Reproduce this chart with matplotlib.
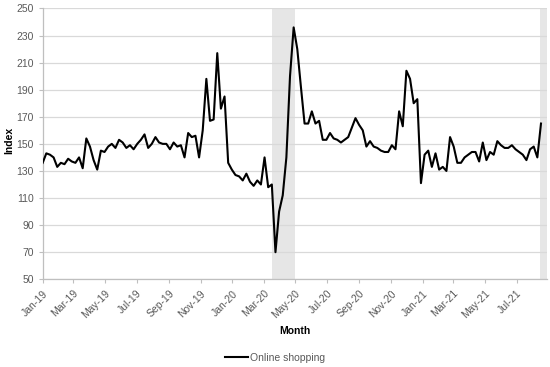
import numpy as np
import pandas as pd
import matplotlib
matplotlib.use('Agg')
import matplotlib.pyplot as plt
import matplotlib.dates as mdates

plt.rcParams['font.family'] = ['Liberation Sans', 'DejaVu Sans']

# weekly index values, Jan 2019 - Aug 2021
online_shopping = [
    136, 143, 142, 140, 133, 136, 135, 139, 137, 136,   # w0-9
    140, 132, 154, 148, 138, 131, 145, 144, 148, 150,   # w10-19
    147, 153, 151, 147, 149, 146, 150, 153, 157, 147,   # w20-29
    150, 155, 151, 150, 150, 146, 151, 148, 149, 140,   # w30-39
    158, 155, 156, 140, 160, 198, 167, 168, 217, 176,   # w40-49
    185, 136, 131, 127, 126, 123, 128, 122, 119, 123,   # w50-59
    120, 140, 118, 120, 70, 100, 112, 140, 200, 236,    # w60-69
    220, 192, 165, 165, 174, 165, 167, 153, 153, 158,   # w70-79
    154, 153, 151, 153, 155, 162, 169, 164, 160, 148,   # w80-89
    152, 148, 147, 145, 144, 144, 149, 146, 174, 163,   # w90-99
    204, 198, 180, 183, 121, 142, 145, 133, 143, 131,   # w100-109
    133, 130, 155, 148, 136, 136, 140, 142, 144, 144,   # w110-119
    137, 151, 138, 144, 142, 152, 149, 147, 147, 149,   # w120-129
    146, 144, 142, 138, 146, 148, 140, 165,             # w130-137
]
dates = pd.date_range('2019-01-01', periods=len(online_shopping), freq='7D')

# shaded periods
shade_periods = [('2020-03-18', '2020-05-01'), ('2021-08-16', '2021-08-28')]

tick_dates = pd.date_range('2019-01-01', '2021-07-01', freq='2MS')
y_ticks = list(range(50, 251, 20))

text_col = '#595959'
grid_col = '#D9D9D9'

fig = plt.figure(figsize=(5.5, 3.67), dpi=100)
ax = fig.add_axes([0.0776, 0.239, 0.9164, 0.738])

for start, end in shade_periods:
    ax.axvspan(pd.Timestamp(start), pd.Timestamp(end), color='#E6E6E6', lw=0, zorder=0)

line, = ax.plot(dates, online_shopping, color='black', lw=1.5, zorder=3,
                label='Online shopping')

ax.set_xlim(pd.Timestamp('2019-01-01'), pd.Timestamp('2021-08-28'))
ax.set_ylim(50, 250)
ax.set_yticks(y_ticks)
ax.set_xticks(tick_dates)
ax.xaxis.set_major_formatter(mdates.DateFormatter('%b-%y'))
ax.grid(axis='y', color=grid_col, lw=0.9, zorder=1)
ax.set_axisbelow(True)

for s in ['top', 'right']:
    ax.spines[s].set_visible(False)
for s in ['left', 'bottom']:
    ax.spines[s].set_color('#BFBFBF')
    ax.spines[s].set_linewidth(0.9)

ax.tick_params(axis='both', colors='#BFBFBF', length=3, width=0.8,
               labelcolor=text_col, labelsize=7.5)
plt.setp(ax.get_xticklabels(), rotation=45, ha='right', rotation_mode='anchor')

ax.set_ylabel('Index', fontsize=7.5, fontweight='bold', color='black')
ax.yaxis.set_label_coords(-0.056, 0.514)
ax.set_xlabel('Month', fontsize=7.5, fontweight='bold', color='black', labelpad=4)

fig.legend(handles=[line], loc='center', bbox_to_anchor=(0.5, 0.025), frameon=False,
           fontsize=7.5, handlelength=2.2, handletextpad=0.2, labelcolor=text_col)

plt.savefig('out.png', dpi=100)
